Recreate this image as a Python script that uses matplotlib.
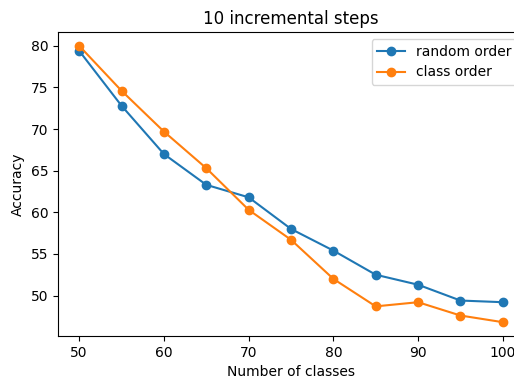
import matplotlib
matplotlib.use("Agg")
import matplotlib.pyplot as plt

# number of classes seen after each incremental step
n_classes = [50, 55, 60, 65, 70, 75, 80, 85, 90, 95, 100]
random_order = [79.4, 72.8, 67.0, 63.3, 61.8, 58.0, 55.4, 52.5, 51.3, 49.4, 49.2]
class_order = [80.0, 74.6, 69.7, 65.3, 60.3, 56.7, 52.0, 48.7, 49.2, 47.6, 46.8]

fig = plt.figure(figsize=(5.14, 3.83), dpi=100)
# the original screenshot is cropped on the right, so the axes run past the edge
ax = fig.add_axes([58 / 514, 1 - 336 / 383, (524 - 58) / 514, (336 - 32) / 383])

ax.plot(n_classes, random_order, marker="o", label="random order")
ax.plot(n_classes, class_order, marker="o", label="class order")

ax.set_title("10 incremental steps")
ax.set_xlabel("Number of classes")
ax.set_ylabel("Accuracy")
ax.legend(loc="upper right")

fig.savefig("out.png")
